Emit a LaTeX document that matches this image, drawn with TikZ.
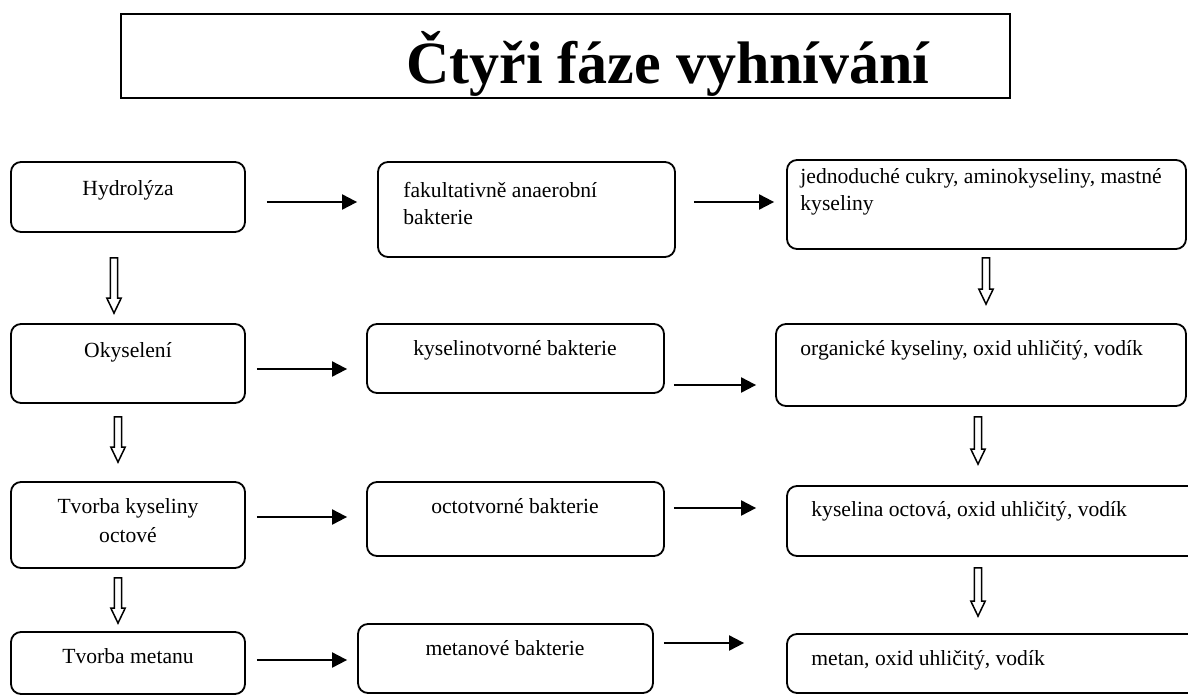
\documentclass[tikz,border=0pt]{standalone}
\usepackage{fontspec}
\setmainfont{Liberation Serif}
\usetikzlibrary{fit,calc,arrows.meta}
\newcommand\hollowarrow[2]{%
  \draw[hollow] let \p1=#1, \p2=#2 in
    (\x1-1.8pt,\y1) -- (\x1+1.8pt,\y1) -- (\x1+1.8pt,\y2+7.5pt) -- (\x1+3.6pt,\y2+7.5pt)
    -- (\x1,\y2) -- (\x1-3.6pt,\y2+7.5pt) -- (\x1-1.8pt,\y2+7.5pt) -- cycle;}
\begin{document}
\begin{tikzpicture}[x=0.5pt,y=-0.5pt,
  box/.style={draw, rounded corners=5pt, line width=0.9pt, inner sep=0pt},
  tbox/.style={draw, line width=1pt, inner sep=0pt},
  txt/.style={font=\fontsize{10.8}{13}\selectfont, inner sep=0pt},
  ttl/.style={font=\fontsize{30}{32}\selectfont\bfseries, inner sep=0pt},
  conn/.style={line width=1pt, -{Triangle[length=7.5pt,width=7.5pt]}},
  hollow/.style={draw, line width=0.75pt, fill=white}]
\useasboundingbox (0,0) rectangle (1188,696);
\fill[white] (0,0) rectangle (1188,696);
\clip (0,0) rectangle (1188,696);
% title
\node[tbox, fit={(121,14) (1010,98)}] (title) {};
\node[ttl, anchor=base] (ttext) at (668,83) {Čtyři fáze vyhnívání};
% column 1
\node[box, fit={(11,162) (245,232)}] (B1) {};
\node[box, fit={(11,324) (245,403)}] (B2) {};
\node[box, fit={(11,482) (245,568)}] (B3) {};
\node[box, fit={(11,632) (245,694)}] (B4) {};
\node[txt, anchor=base] (tB1) at (128,195) {Hydrolýza};
\node[txt, anchor=base] (tB2) at (128,357) {Okyselení};
\node[txt, anchor=base] (tB3a) at (128,513) {Tvorba kyseliny};
\node[txt, anchor=base] (tB3b) at (128,542) {octové};
\node[txt, anchor=base] (tB4) at (128,663) {Tvorba metanu};
% column 2
\node[box, fit={(378,162) (675,257)}] (C1) {};
\node[box, fit={(367,324) (664,393)}] (C2) {};
\node[box, fit={(367,482) (664,556)}] (C3) {};
\node[box, fit={(358,624) (653,693)}] (C4) {};
\node[txt, anchor=base west] (tC1a) at (403,197) {fakultativně anaerobní};
\node[txt, anchor=base west] (tC1b) at (403,224) {bakterie};
\node[txt, anchor=base] (tC2) at (515,355) {kyselinotvorné bakterie};
\node[txt, anchor=base] (tC3) at (515,513) {octotvorné bakterie};
\node[txt, anchor=base] (tC4) at (505,655) {metanové bakterie};
% column 3
\node[box, fit={(787,160) (1186,249)}] (D1) {};
\node[box, fit={(776,324) (1186,406)}] (D2) {};
\node[box, fit={(787,486) (1200,556)}] (D3) {};
\node[box, fit={(787,634) (1200,693)}] (D4) {};
\node[txt, anchor=base west] (tD1a) at (800,183) {jednoduché cukry, aminokyseliny, mastné};
\node[txt, anchor=base west] (tD1b) at (800,210) {kyseliny};
\node[txt, anchor=base west] (tD2) at (800,355) {organické kyseliny, oxid uhličitý, vodík};
\node[txt, anchor=base west] (tD3) at (811,516) {kyselina octová, oxid uhličitý, vodík};
\node[txt, anchor=base west] (tD4) at (811,665) {metan, oxid uhličitý, vodík};
% horizontal arrows
\draw[conn] ([shift={(21,5)}]B1.east) -- ([shift={(-20,-7.5)}]C1.west);
\draw[conn] ([shift={(18,-7.5)}]C1.east) -- ([shift={(-12,-2.5)}]D1.west);
\draw[conn] ([shift={(11,5.5)}]B2.east) -- ([shift={(-19,10.5)}]C2.west);
\draw[conn] ([shift={(9,26.5)}]C2.east) -- ([shift={(-19,20)}]D2.west);
\draw[conn] ([shift={(11,-8)}]B3.east) -- ([shift={(-19,-2)}]C3.west);
\draw[conn] ([shift={(9,-11)}]C3.east) -- ([shift={(-30,-13)}]D3.west);
\draw[conn] ([shift={(11,-3)}]B4.east) -- ([shift={(-10,1.5)}]C4.west);
\draw[conn] ([shift={(10,-15.5)}]C4.east) -- ([shift={(-42,-20.5)}]D4.west);
% hollow down arrows
\hollowarrow{([shift={(-14,25)}]B1.south)}{([shift={(-14,-10)}]B2.north)}
\hollowarrow{([shift={(-10,13)}]B2.south)}{([shift={(-10,-19)}]B3.north)}
\hollowarrow{([shift={(-10,9)}]B3.south)}{([shift={(-10,-8)}]B4.north)}
\hollowarrow{([shift={(-0.5,8)}]D1.south)}{([shift={(5,-19)}]D2.north)}
\hollowarrow{([shift={(-3,10)}]D2.south)}{([shift={(-15.5,-21)}]D3.north)}
\hollowarrow{([shift={(-15.5,11)}]D3.south)}{([shift={(-15.5,-17)}]D4.north)}
\end{tikzpicture}
\end{document}
